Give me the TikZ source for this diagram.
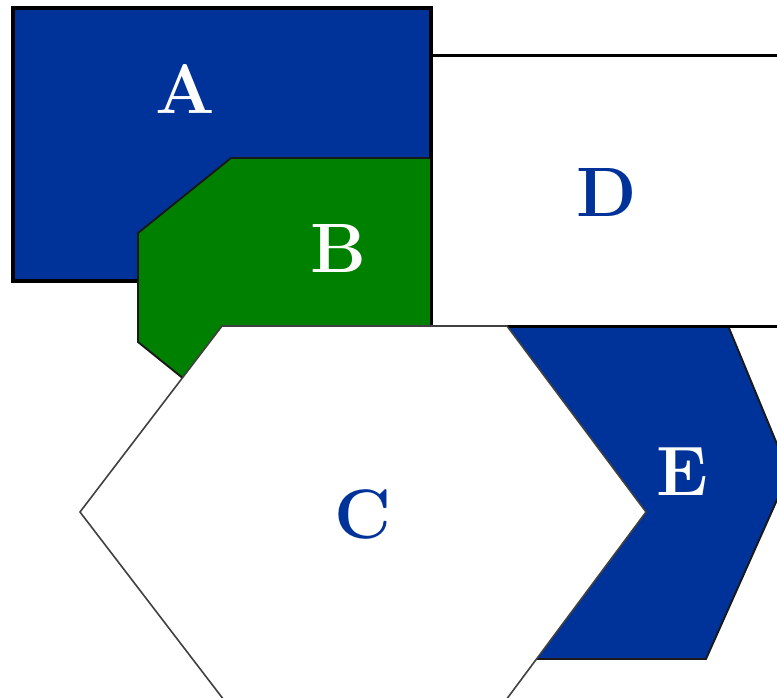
\documentclass[tikz,border=0pt]{standalone}
\definecolor{pblue}{RGB}{0,51,153}
\definecolor{pgreen}{RGB}{0,128,0}
\definecolor{cedge}{RGB}{64,64,64}
\begin{document}
\begin{tikzpicture}[x=1pt,y=-1pt,
  lbl/.style={font=\fontsize{70}{84}\selectfont\bfseries, inner sep=0pt, anchor=center},
  thickedge/.style={draw=black, line width=3.4pt},
  thinedge/.style={draw=black!90, line width=1.9pt, line join=miter}]
\useasboundingbox (0,0) rectangle (777,697);
\clip (0,0) rectangle (777,697);
% A
\path[fill=pblue, thickedge] (13,8) rectangle (431,281);
% B
\path[fill=pgreen, thinedge] (231,158) -- (480,158) -- (480,417) -- (231,417) -- (138,342) -- (138,233) -- cycle;
% E
\path[fill=pblue, thinedge] (460,287) -- (712,287) -- (789,473) -- (706,659) -- (400,659) -- (480,473) -- cycle;
% D
\path[fill=white, draw=black, line width=3pt] (431,55) rectangle (820,326);
% C
\path[fill=white, draw=cedge, line width=1.6pt] (222,326) -- (507,326) -- (646,512) -- (503,704) -- (227,704) -- (80,512) -- cycle;
% labels
\node[lbl, text=white] (la) at (185,89) {A};
\node[lbl, text=white] (lb) at (338,248) {B};
\node[lbl, text=pblue] (ld) at (607,192) {D};
\node[lbl, text=pblue] (lc) at (363,514) {C};
\node[lbl, text=white] (le) at (682,472) {E};
\end{tikzpicture}
\end{document}
